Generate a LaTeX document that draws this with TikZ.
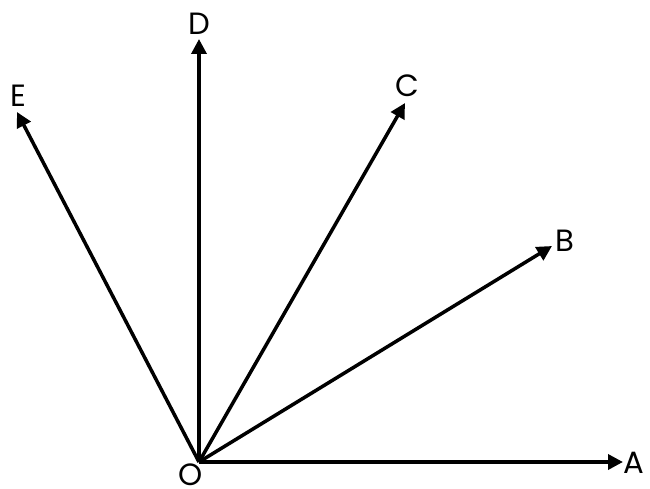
\documentclass[tikz,border=0pt]{standalone}
\usepackage{fontspec}
\setmainfont{Poppins}
\usetikzlibrary{arrows.meta}

\begin{document}
\begin{tikzpicture}[x=0.02cm,y=0.02cm,-{Triangle[length=0.3cm,width=0.3cm]},
                    line width=2pt]
  \tikzstyle{ray label}=[inner sep=0pt,font=\fontsize{17.5}{20}\selectfont]
  \useasboundingbox (0,0) rectangle (650,488);

  \coordinate (O) at (199,26);
  \coordinate (A) at (623,26);
  \coordinate (B) at (552,242);
  \coordinate (C) at (405,385);
  \coordinate (D) at (199,449);
  \coordinate (E) at (17,376);

  \node[ray label] (lO) at (191,13)  {O};
  \node[ray label] (lA) at (634,25)  {A};
  \node[ray label] (lB) at (565,247) {B};
  \node[ray label] (lC) at (407,402) {C};
  \node[ray label] (lD) at (199,464) {D};
  \node[ray label] (lE) at (18,392)  {E};

  \draw (O) -- (A);
  \draw (O) -- (B);
  \draw (O) -- (C);
  \draw (O) -- (D);
  \draw (O) -- (E);
\end{tikzpicture}
\end{document}
